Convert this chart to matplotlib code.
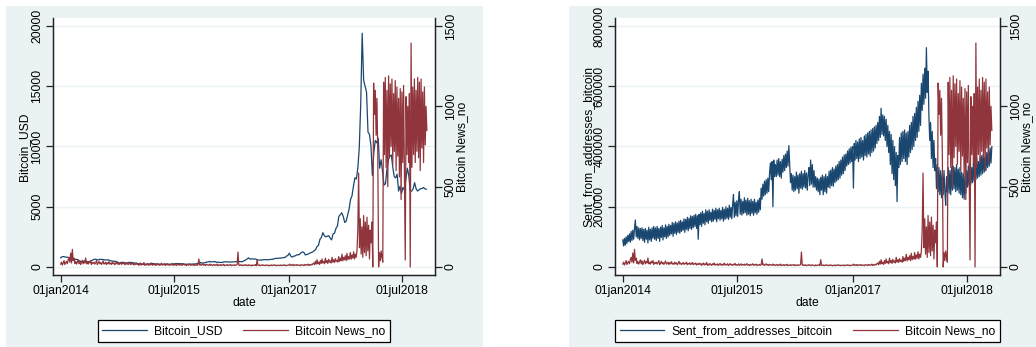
import numpy as np
import pandas as pd
import matplotlib
matplotlib.use('Agg')
import matplotlib.pyplot as plt
import matplotlib.dates as mdates
from matplotlib.lines import Line2D
from matplotlib.patches import Rectangle

plt.rcParams['font.family'] = ['Liberation Sans', 'DejaVu Sans']
plt.rcParams['font.size'] = 8.7

# ---- data ----
# Bitcoin_USD, weekly from 01jan2014
usd_2014 = [770, 850, 870, 830, 820, 800, 690, 650, 580, 560, 640, 630, 580, 480,
            450, 440, 500, 490, 440, 445, 450, 520, 580, 630, 650, 600, 590, 640,
            630, 620, 590, 585, 590, 580, 520, 500, 480, 475, 440, 410, 330, 360,
            390, 360, 350, 330, 360, 380, 375, 360, 350, 320, 315]
usd_2015 = [270, 280, 210, 230, 240, 225, 220, 245, 255, 275, 290, 270, 255, 245,
            235, 225, 220, 230, 240, 235, 240, 230, 225, 235, 250, 265, 290, 280,
            285, 275, 265, 260, 230, 225, 235, 240, 230, 235, 245, 250, 270, 285,
            330, 380, 330, 330, 360, 390, 415, 455, 425, 430]
usd_2016 = [435, 455, 380, 410, 380, 375, 385, 420, 435, 425, 415, 410, 415, 420,
            425, 440, 460, 450, 455, 440, 450, 530, 580, 670, 760, 650, 680, 660,
            665, 655, 590, 575, 580, 575, 605, 610, 605, 600, 610, 615, 635, 650,
            700, 720, 710, 740, 735, 760, 780, 790, 900, 960]
usd_2017 = [1150, 900, 820, 900, 920, 1010, 1000, 1060, 1180, 1250, 1200, 1000, 1040,
            1080, 1150, 1200, 1250, 1340, 1450, 1700, 1800, 2300, 2450, 2850, 2600,
            2500, 2550, 2600, 2400, 2250, 2750, 2800, 3200, 3400, 4200, 4350, 4500,
            4200, 3700, 3800, 4300, 4800, 5600, 5900, 6700, 7400, 7300, 8200, 9900,
            13500, 19400, 15500]
usd_2018 = [15000, 14500, 11200, 11000, 10100, 7600, 9500, 10500, 10300, 10700, 8200,
            8900, 7900, 6800, 6900, 8100, 8900, 9200, 9300, 8300, 7500, 7400, 7700,
            6300, 6700, 6100, 6600, 6400, 7300, 8200, 7600, 6300, 6300, 6500, 7000,
            6500, 6300, 6400, 6500, 6500, 6600, 6500, 6450]

# Bitcoin News_no, every 4 days from 01jan2014
news_2014 = [18, 30, 12, 25, 40, 15, 28, 35, 20, 45, 60, 30, 87, 25, 110, 40, 55, 22,
             35, 18, 30, 45, 20, 38, 15, 28, 42, 20, 33, 25, 56, 20, 30, 18, 35, 25,
             40, 15, 28, 22, 30, 18, 26, 40, 15, 24, 35, 20, 28, 16, 25, 38, 18, 22,
             30, 15, 27, 20, 33, 18, 24, 16, 30, 20, 26, 14, 22, 35, 18, 25, 15, 22,
             28, 16, 24, 20, 30, 14, 22, 18, 26, 15, 20, 28, 14, 22, 18, 25, 12, 20,
             16, 24]
news_2015 = [15, 22, 10, 18, 25, 12, 20, 14, 28, 10, 18, 12, 22, 15, 10, 20, 14, 25,
             11, 17, 13, 20, 9, 16, 22, 12, 18, 10, 15, 24, 11, 17, 13, 20, 9, 15, 21,
             12, 16, 10, 18, 13, 22, 10, 15, 12, 19, 9, 14, 20, 11, 16, 12, 18, 10, 14,
             21, 12, 15, 9, 17, 11, 14, 20, 10, 15, 12, 18, 9, 14, 11, 16, 10, 15, 50,
             12, 18, 10, 14, 20, 11, 15, 9, 17, 12, 14, 10, 18, 11, 15, 9]
news_2016 = [12, 16, 9, 14, 11, 18, 8, 13, 10, 15, 9, 14, 11, 17, 8, 12, 10, 15, 9, 13,
             11, 16, 8, 12, 10, 14, 9, 13, 11, 15, 93, 12, 9, 14, 10, 13, 8, 12, 10, 15,
             9, 12, 8, 14, 10, 11, 7, 13, 9, 12, 10, 14, 8, 45, 11, 9, 13, 8, 12, 10,
             14, 9, 11, 8, 13, 10, 12, 7, 11, 9, 13, 8, 12, 10, 14, 9, 11, 8, 12, 10,
             9, 13, 8, 11, 10, 14, 9, 12, 8, 11, 10]
news_2017 = [12, 18, 9, 14, 10, 16, 8, 13, 11, 15, 9, 14, 10, 12, 8, 15, 11, 13, 9, 16,
             10, 14, 12, 18, 9, 15, 11, 17, 13, 20, 25, 14, 35, 18, 45, 20, 30, 16, 40,
             22, 50, 25, 35, 20, 55, 28, 40, 22, 48, 30, 38, 25, 60, 30, 45, 28, 52, 35,
             42, 30, 65, 35, 55, 40, 80, 38, 60, 45, 70, 40, 85, 45, 65, 50, 90, 48, 75,
             55, 95, 50, 80, 60, 100, 230, 585, 120, 300, 80, 250, 60, 320]
news_2018 = [90, 280, 70, 310, 100, 260, 50, 230, 150, 280, 0, 1145, 950, 1100, 820,
             1050, 700, 0, 90, 40, 100, 60, 30,
             1150, 700, 1180, 620, 1100, 500, 1190, 680, 1140, 750,
             1170, 640, 1080, 720, 1160, 600, 1120, 690, 1050, 560,
             1110, 420, 1090, 650, 1130, 600, 44, 1060, 700, 1000,
             650, 1080, 0, 1394, 620, 1120, 700, 1170, 650, 1100,
             720, 1180, 680, 1150, 600, 1170, 740, 1090, 650, 1120,
             760, 1000, 850]

# Sent_from_addresses_bitcoin (thousands), every 4 days from 01jan2014
sent_2014 = [90, 70, 95, 72, 100, 78, 105, 85,
             110, 82, 118, 88, 122, 92, 128,
             156, 100, 135, 95, 130, 90, 128, 95,
             130, 88, 125, 82, 128, 92, 122, 80, 132, 90, 125, 85, 130, 95, 135,
             92, 130, 88, 135, 95, 128, 85, 132, 98, 138, 90, 130, 100, 140, 95,
             135, 100, 142, 105, 138, 110, 148, 102, 145, 112, 150, 108, 146, 115, 152,
             112, 155, 118, 150, 122, 160, 115, 158, 125, 165, 120, 162, 128, 170, 125,
             168, 130, 172, 135, 175, 128, 170, 92, 175]
sent_2015 = [140, 180, 135, 185, 145, 178, 140, 190,
             150, 185, 145, 190, 155, 182, 150,
             192, 152, 188, 158, 195, 150, 190, 160,
             195, 155, 188, 160, 198, 152, 192, 158,
             200, 162, 195, 158, 205, 165, 198, 160,
             208, 240, 165, 215, 170, 220, 168,
             222, 250, 175, 225, 172, 218, 178, 230,
             180, 222, 172, 228, 175, 220, 170, 225,
             178, 218, 172, 225, 180, 215, 175,
             222, 182, 228, 190, 262, 225, 275, 235,
             285, 240, 290, 245, 295, 250, 310,
             345, 290, 350, 200, 355, 300, 340]
sent_2016 = [300, 355, 305, 360, 300, 350, 295, 358,
             315, 370, 320, 375, 330, 385, 335,
             403, 340, 280, 310, 255, 305, 250, 300,
             255, 315, 260, 305, 245, 310, 262, 318,
             258, 310, 265, 320, 262, 312, 255, 305,
             330, 270, 355, 275, 340, 265, 320,
             265, 300, 255, 295, 250, 292, 240, 298,
             255, 305, 240, 300, 250, 308, 245, 300,
             265, 318, 262, 322, 270, 330, 268,
             325, 280, 335, 285, 340, 290, 350, 295,
             355, 305, 365, 310, 372, 320, 375,
             335, 385, 340, 392, 345, 398, 350]
sent_2017 = [400, 262, 410, 355, 420, 360, 415, 350,
             425, 360, 430, 365, 420, 355, 435,
             370, 440, 365, 445, 375, 450, 368, 455,
             380, 460, 385, 465, 395, 470, 410,
             480, 420, 500, 430, 527, 440, 505, 435,
             500, 420, 490, 400, 470, 380, 450,
             340, 440, 310, 420, 290, 400, 270, 380, 217, 370, 330, 430, 340, 445, 350, 450,
             360, 455, 350, 445, 340, 450, 365,
             470, 380, 480, 390, 500, 400, 510, 420,
             530, 430, 550, 450, 570, 470, 610,
             520, 640, 540, 660, 560, 728, 580, 650]
sent_2018 = [500, 420, 480, 360, 450, 330, 420, 320,
             360, 260, 340, 250, 330, 240, 320,
             230, 310, 240, 320, 250, 205, 300,
             250, 330, 245, 320, 240, 330, 255, 335,
             260, 330, 250, 340, 255, 325, 245, 330,
             240, 315, 230, 310, 225, 300, 245,
             320, 265, 335, 270, 345, 275, 330, 280,
             345, 285, 355, 290, 360, 295, 350, 300,
             365, 305, 370, 310, 375, 315, 365,
             320, 380, 330, 390, 335, 395, 345, 400]

xtick_dates = ['2014-01-01', '2015-07-01', '2017-01-01', '2018-07-01']
xtick_labels = ['01jan2014', '01jul2015', '01jan2017', '01jul2018']

usd = usd_2014 + usd_2015 + usd_2016 + usd_2017 + usd_2018
news = news_2014 + news_2015 + news_2016 + news_2017 + news_2018
sent = np.array(sent_2014 + sent_2015 + sent_2016 + sent_2017 + sent_2018) * 1000

usd_dates = pd.date_range('2014-01-01', periods=len(usd), freq='7D')
news_dates = pd.date_range('2014-01-01', periods=len(news), freq='4D')
sent_dates = pd.date_range('2014-01-01', periods=len(sent), freq='4D')

NAVY = '#1a476f'
MAROON = '#90353b'
BG = '#eaf2f3'

fig = plt.figure(figsize=(10.36, 3.47), dpi=100)
fig.patch.set_facecolor('white')

# graph regions (light bluish background)
fig.add_artist(Rectangle((6/1036, 0), 477/1036, 341/347, transform=fig.transFigure,
                         facecolor=BG, edgecolor='none', zorder=-10))
fig.add_artist(Rectangle((569/1036, 0), 467/1036, 341/347, transform=fig.transFigure,
                         facecolor=BG, edgecolor='none', zorder=-10))

xlo = mdates.date2num(pd.Timestamp('2014-01-01')) - 37
xhi = mdates.date2num(pd.Timestamp('2018-07-01')) + 157


def panel(rect, x, y, ylabel, yticks, ylim, ylab_x):
    ax = fig.add_axes(rect)
    ax.set_facecolor('white')
    ax.plot(x, y, color=NAVY, lw=0.9)
    ax2 = ax.twinx()
    ax2.plot(news_dates, news, color=MAROON, lw=0.9)

    ax.set_xlim(xlo, xhi)
    ax.set_ylim(*ylim)
    ax2.set_ylim(-49.8, 1549.8)

    ax.set_yticks(yticks)
    ax.set_yticklabels([str(t) for t in yticks], rotation=90, va='center')
    ax2.set_yticks([0, 500, 1000, 1500])
    ax2.set_yticklabels(['0', '500', '1000', '1500'], rotation=90, va='center')
    ax.set_xticks([mdates.date2num(pd.Timestamp(d)) for d in xtick_dates])
    ax.set_xticklabels(xtick_labels)

    ax.grid(axis='y', color=BG, lw=1)
    ax.set_axisbelow(True)
    for a in (ax, ax2):
        a.tick_params(direction='out', length=5, width=0.9, color='#222222', pad=2)
        a.spines['top'].set_visible(False)
        for s in ('left', 'right', 'bottom'):
            a.spines[s].set_linewidth(0.9)
            a.spines[s].set_color('#222222')

    ax.set_xlabel('date', labelpad=0)
    ax.set_ylabel(ylabel)
    ax.yaxis.set_label_coords(ylab_x, 0.5)
    ax2.set_ylabel('Bitcoin News_no')
    ax2.yaxis.set_label_coords(1 + 21.5 / (rect[2] * 1036), 0.5)

    handles = [Line2D([], [], color=NAVY, lw=0.9), Line2D([], [], color=MAROON, lw=0.9)]
    leg = ax.legend(handles, [ylabel, 'Bitcoin News_no'], loc='upper center',
                    bbox_to_anchor=(0.5, -0.152), ncol=2, frameon=True, fancybox=False,
                    edgecolor='black', framealpha=1, handlelength=3.7,
                    columnspacing=1.7, borderpad=0.4, handletextpad=0.6)
    leg.get_frame().set_linewidth(0.9)
    return ax, ax2


panel([53/1036, 72/347, 382/1036, 257/347], usd_dates, usd, 'Bitcoin_USD',
      [0, 5000, 10000, 15000, 20000], (-664, 20664), -0.059)
panel([615/1036, 72/347, 385/1036, 257/347], sent_dates, sent,
      'Sent_from_addresses_bitcoin', [0, 200000, 400000, 600000, 800000],
      (-26556, 826556), -0.054)

fig.savefig('out.png', dpi=100)
